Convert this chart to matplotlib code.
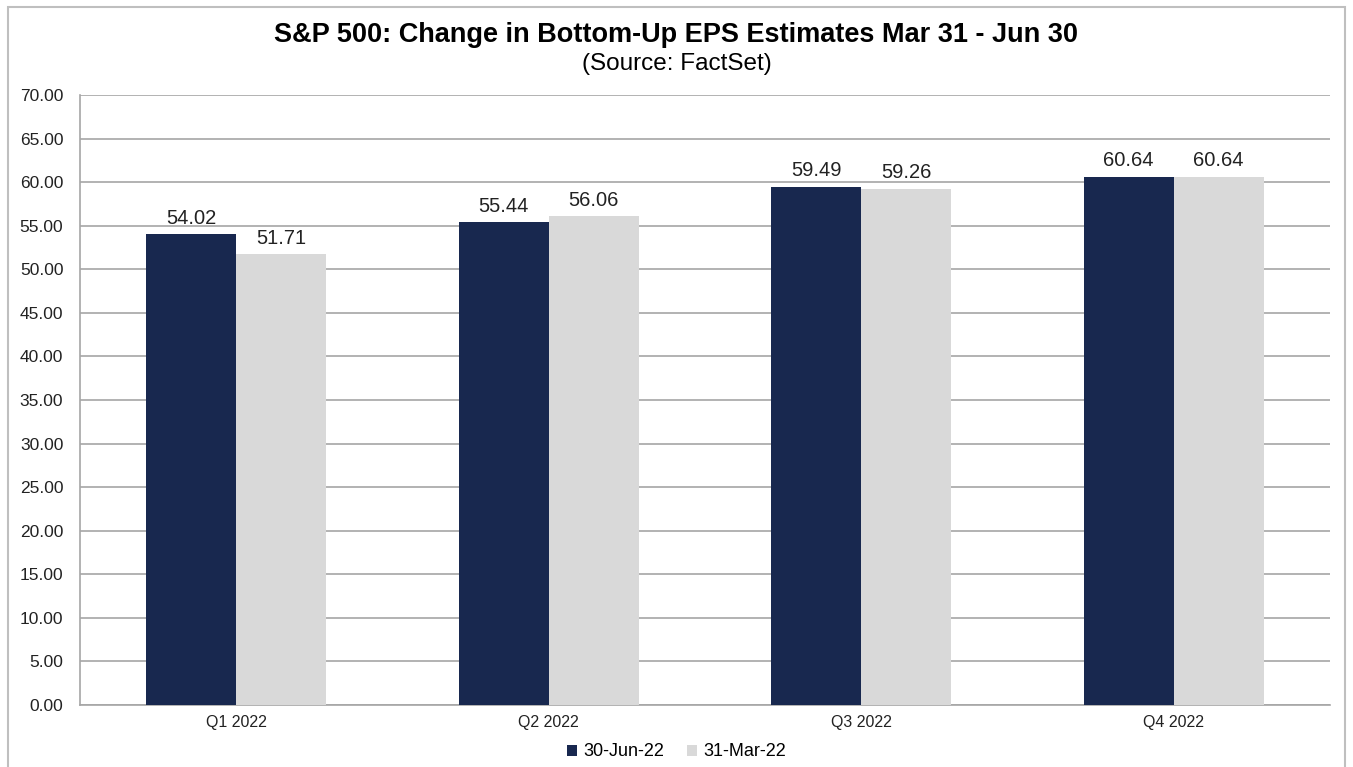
import matplotlib
matplotlib.use("Agg")
import matplotlib.pyplot as plt
import numpy as np
from matplotlib.patches import Rectangle

quarters = ["Q1 2022", "Q2 2022", "Q3 2022", "Q4 2022"]
jun30 = [54.02, 55.44, 59.49, 60.64]
mar31 = [51.71, 56.06, 59.26, 60.64]
yticks = np.arange(0, 70.01, 5)

navy = "#18284f"
light = "#d9d9d9"
grid = "#a6a6a6"

plt.rcParams["font.family"] = ["Liberation Sans", "DejaVu Sans"]

fig = plt.figure(figsize=(13.53, 7.67), dpi=100)
ax = fig.add_axes([80 / 1353, 1 - 705 / 767, 1250 / 1353, 610 / 767])

# outer frame around the whole chart
fig.patches.append(Rectangle((8 / 1353, -0.01), 1337 / 1353, 1 - 7 / 767 + 0.01,
                             transform=fig.transFigure, fill=False,
                             edgecolor="#bfbfbf", linewidth=1.5))

x = np.arange(len(quarters))
w = 0.288
b1 = ax.bar(x - w / 2, jun30, w, color=navy, label="30-Jun-22", zorder=3)
b2 = ax.bar(x + w / 2, mar31, w, color=light, label="31-Mar-22", zorder=3)

for bars, vals in ((b1, jun30), (b2, mar31)):
    for r, v in zip(bars, vals):
        ax.text(r.get_x() + r.get_width() / 2, v + 0.7, f"{v:.2f}",
                ha="center", va="bottom", fontsize=14.5, color="#222222")

ax.set_xlim(-0.5, 3.5)
ax.set_ylim(0, 70)
ax.set_yticks(yticks)
ax.set_yticklabels([f"{t:.2f}" for t in yticks], fontsize=12.5)
ax.set_xticks(x)
ax.set_xticklabels(quarters, fontsize=11.5)
ax.tick_params(axis="both", length=0, colors="#222222")
ax.tick_params(axis="x", pad=7)
ax.tick_params(axis="y", pad=12)
ax.yaxis.grid(True, color=grid, linewidth=1.2, zorder=0)
ax.set_axisbelow(True)
for s in ("top", "right"):
    ax.spines[s].set_visible(False)
for s in ("left", "bottom"):
    ax.spines[s].set_color(grid)
    ax.spines[s].set_linewidth(1.2)

fig.text(0.5, 1 - 35 / 767, "S&P 500: Change in Bottom-Up EPS Estimates Mar 31 - Jun 30",
         ha="center", va="center", fontsize=19.5, fontweight="bold")
fig.text(0.5, 1 - 64 / 767, "(Source: FactSet)", ha="center", va="center", fontsize=17.5)

fig.legend(handles=[b1, b2], loc="center", bbox_to_anchor=(0.5, 1 - 752 / 767),
           ncol=2, frameon=False, fontsize=13, handlelength=0.55, handleheight=0.55,
           handletextpad=0.35, columnspacing=1.3)

fig.savefig("out.png", dpi=100)
